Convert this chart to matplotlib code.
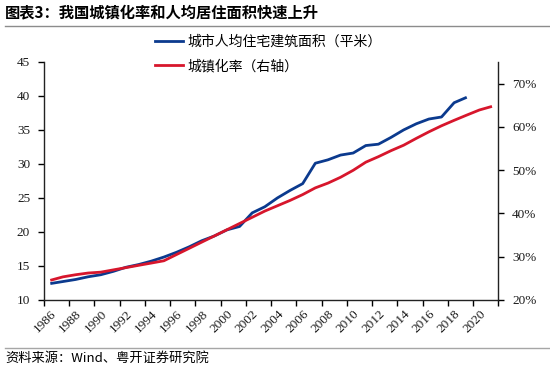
import numpy as np
import matplotlib
matplotlib.use("Agg")
import matplotlib.pyplot as plt
from matplotlib.lines import Line2D

# ==========================================
# DATA
# ==========================================

years_area = list(range(1986, 2020))
area = [12.4, 12.7, 13.0, 13.4, 13.7, 14.2, 14.8, 15.2, 15.7, 16.3,
        17.0, 17.8, 18.7, 19.4, 20.3, 20.8, 22.8, 23.7, 25.0, 26.1,
        27.1, 30.1, 30.6, 31.3, 31.6, 32.7, 32.9, 33.9, 35.0, 35.9,
        36.6, 36.9, 39.0, 39.8]

years_urban = list(range(1986, 2022))
urban = [24.52, 25.32, 25.81, 26.21, 26.41, 26.94, 27.46, 27.99, 28.51, 29.04,
         30.48, 31.91, 33.35, 34.78, 36.22, 37.66, 39.09, 40.53, 41.76, 42.99,
         44.34, 45.89, 46.99, 48.34, 49.95, 51.83, 53.10, 54.49, 55.75, 57.33,
         58.84, 60.24, 61.50, 62.71, 63.89, 64.72]

label_area = "城市人均住宅建筑面积（平米）"
label_urban = "城镇化率（右轴）"
title = "图表3：我国城镇化率和人均居住面积快速上升"
source = "资料来源：Wind、粤开证券研究院"

year_labels = list(range(1986, 2021, 2))
left_ticks = [10, 15, 20, 25, 30, 35, 40, 45]
right_ticks = [20, 30, 40, 50, 60, 70]

BLUE = "#0b3a8e"
RED = "#d7162c"
CJK = ["Noto Sans CJK SC", "DejaVu Sans"]
SERIF = "Liberation Serif"

# ==========================================
# FIGURE
# ==========================================

fig = plt.figure(figsize=(5.5, 3.73), dpi=100)
ax = fig.add_axes([0.08, 0.196, 0.826, 0.638])
ax2 = ax.twinx()

ax.plot(years_area, area, color=BLUE, lw=2.0, solid_capstyle="butt")
ax2.plot(years_urban, urban, color=RED, lw=2.0, solid_capstyle="butt")

# x axis: ticks at category edges, labels at category centres
ax.set_xlim(1985.5, 2021.5)
ax.set_xticks(np.arange(1985.5, 2022, 2))
ax.set_xticklabels([])
ax.set_xticks(year_labels, minor=True)
ax.set_xticklabels([str(y) for y in year_labels], minor=True,
                   rotation=45, ha="right", va="top", rotation_mode="anchor",
                   fontsize=9.5, family=SERIF, color="#1a1a1a")
ax.tick_params(axis="x", which="major", direction="out", length=4, width=1)
ax.tick_params(axis="x", which="minor", length=0, pad=6)

ax.set_ylim(10, 45)
ax.set_yticks(left_ticks)
ax.set_yticklabels([str(v) for v in left_ticks], family=SERIF, fontsize=9.5,
                   color="#1a1a1a")
ax.tick_params(axis="y", direction="out", length=4, width=1, pad=6)

ax2.set_ylim(20, 75)
ax2.set_yticks(right_ticks)
ax2.set_yticklabels([f"{v}%" for v in right_ticks], family=SERIF, fontsize=9.5,
                    color="#1a1a1a")
ax2.tick_params(axis="y", direction="out", length=4, width=1, pad=6)

for a in (ax, ax2):
    a.spines["top"].set_visible(False)
    for s in ("left", "right", "bottom"):
        a.spines[s].set_color("#222222")
        a.spines[s].set_linewidth(1)
ax.spines["right"].set_visible(False)
ax2.spines["left"].set_visible(False)
ax2.spines["bottom"].set_visible(False)

# ==========================================
# LEGEND
# ==========================================

handles = [Line2D([], [], color=BLUE, lw=2),
           Line2D([], [], color=RED, lw=2)]
fig.legend(handles, [label_area, label_urban], loc="upper left",
           bbox_to_anchor=(0.282, 0.907), frameon=False, borderpad=0,
           borderaxespad=0, handlelength=2.0, handletextpad=0.3,
           labelspacing=0.75, prop={"family": CJK, "size": 10})

# ==========================================
# TITLE / SOURCE / RULES
# ==========================================

fig.text(0.009, 0.966, title, family=CJK, fontsize=11, fontweight="bold",
         va="center", ha="left", color="black")
fig.add_artist(Line2D([0.009, 1.0], [0.929, 0.929], color="#8c8c8c", lw=1))
fig.add_artist(Line2D([0.009, 1.0], [0.068, 0.068], color="#a6a6a6", lw=1))
fig.text(0.009, 0.04, source, family=CJK, fontsize=9.5, style="italic",
         va="center", ha="left", color="black")

fig.savefig("out.png", dpi=100)
plt.close(fig)
